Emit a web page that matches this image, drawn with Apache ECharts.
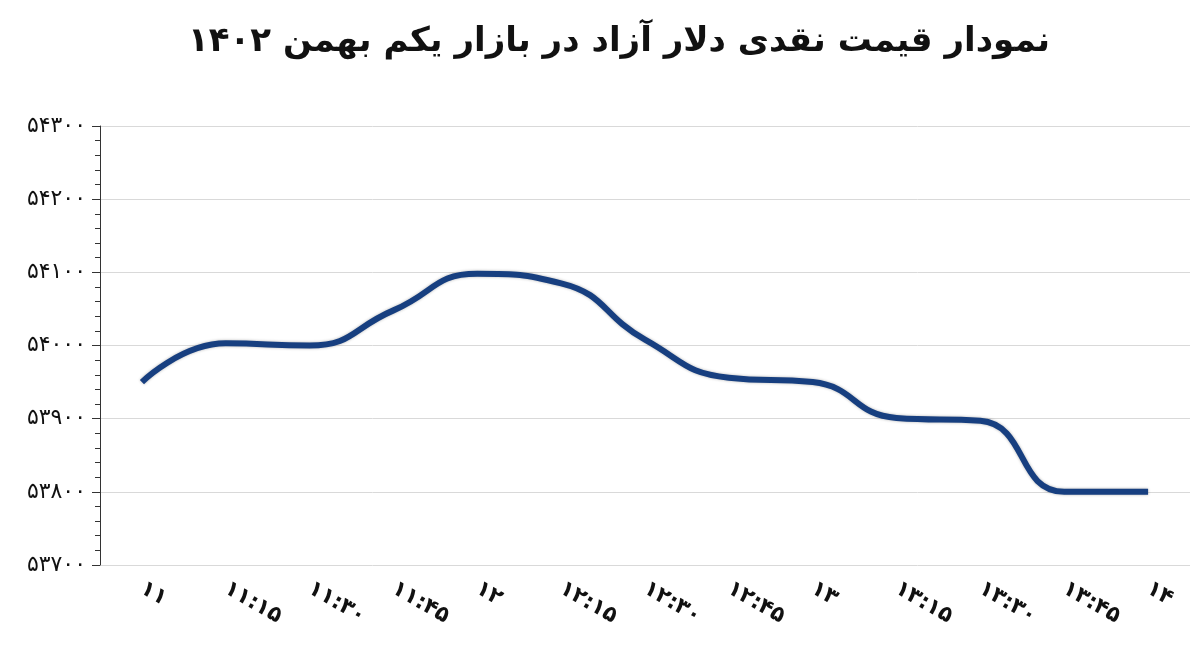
<!DOCTYPE html>
<html><head><meta charset="utf-8">
<script src="https://cdn.jsdelivr.net/npm/echarts@6/dist/echarts.min.js"></script>
<style>html,body{margin:0;padding:0;background:#fff}#c{width:1200px;height:647px}</style>
</head><body><div id="c"></div>
<script>
const categories = ["11","11:15","11:30","11:45","12","12:15","12:30","12:45","13","13:15","13:30","13:45","14"];
const prices = [53950,54003,54000,54048,54098,54085,54008,53956,53950,53901,53897,53800,53800];
const title = "نمودار قیمت نقدی دلار آزاد در بازار یکم بهمن ۱۴۰۲";
const fa = s => String(s).replace(/[0-9]/g, d => "۰۱۲۳۴۵۶۷۸۹"[d]);
const chart = echarts.init(document.getElementById('c'));
chart.setOption({
  animation:false,
  title:{text:title,right:145,top:20,textStyle:{fontFamily:"DejaVu Sans",fontSize:34,fontWeight:'bold',color:'#111'}},
  grid:{left:100,right:10,top:126,bottom:82},
  xAxis:{type:'category',data:categories,boundaryGap:true,
    axisLine:{show:false},axisTick:{show:false},
    axisLabel:{formatter:fa,rotate:-30,fontFamily:"DejaVu Sans",fontWeight:'bold',fontSize:22,color:'#111',margin:22}},
  yAxis:{type:'value',min:53700,max:54300,interval:100,
    axisLine:{show:true,lineStyle:{color:'#333'}},
    axisTick:{show:true,length:8,lineStyle:{color:'#333'}},
    minorTick:{show:true,splitNumber:5,length:5,lineStyle:{color:'#333'}},
    splitLine:{lineStyle:{color:'#d9d9d9'}},
    axisLabel:{formatter:fa,fontFamily:"DejaVu Sans",fontSize:22,color:'#111',margin:14}},
  series:[{type:'line',data:prices,smooth:0.5,symbol:'none',
    lineStyle:{width:6,color:'#173f80',shadowColor:'rgba(0,0,0,0.3)',shadowBlur:3}}]
});
</script></body></html>
